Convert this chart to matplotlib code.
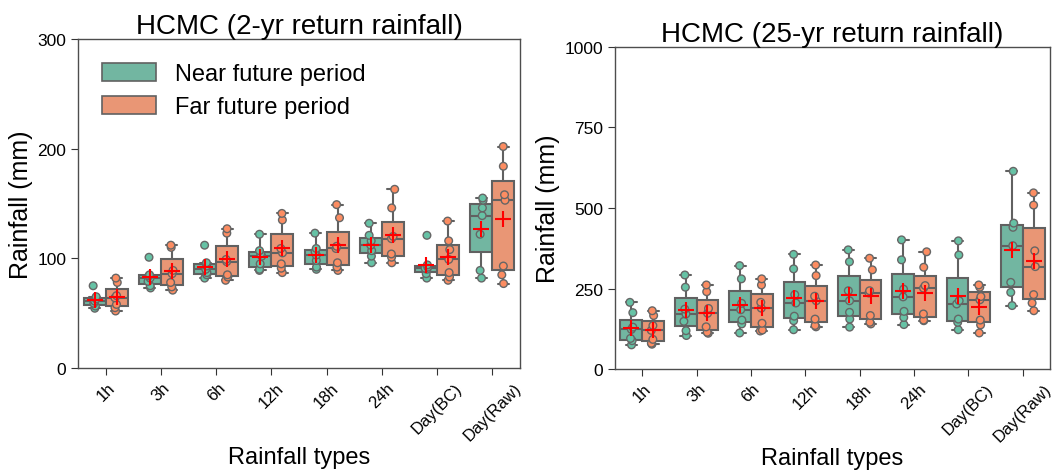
import numpy as np
import pandas as pd
import seaborn as sns
import matplotlib
matplotlib.use('Agg')
import matplotlib.pyplot as plt
from matplotlib.patches import Patch

sns.set_style('ticks')
plt.rcParams['font.family'] = ['Liberation Sans', 'DejaVu Sans']
plt.rcParams['text.color'] = 'black'
plt.rcParams['axes.labelcolor'] = 'black'
plt.rcParams['xtick.color'] = '0.2'
plt.rcParams['ytick.color'] = '0.2'
plt.rcParams['xtick.labelcolor'] = 'black'
plt.rcParams['ytick.labelcolor'] = 'black'

types = ['1h', '3h', '6h', '12h', '18h', '24h', 'Day(BC)', 'Day(Raw)']
periods = ['Near future period', 'Far future period']

# 2-yr return rainfall (mm), 7 values per box
near_2yr = [[54.5, 56.5, 59, 61, 63, 65, 75],
            [73, 75, 79, 82, 84, 85, 101],
            [82, 85, 87, 90, 93, 96, 112],
            [89, 90, 95, 102, 104, 107, 122],
            [90, 92, 98, 103, 106, 109, 123],
            [96, 102, 107, 112, 116, 121, 132],
            [82, 86, 90, 91, 92, 94, 121],
            [82, 89, 122, 139, 146, 153, 155]]
far_2yr = [[52, 55, 58, 64, 66, 78, 82],
           [71, 74, 78, 86, 89, 110, 112],
           [80, 83, 85, 97, 99, 123, 127],
           [87, 91, 95, 105, 109, 135, 141],
           [89, 92, 96, 109, 111, 137, 149],
           [96, 101, 104, 118, 120, 146, 163],
           [80, 83, 87, 99, 108, 116, 134],
           [77, 85, 93, 153, 158, 184, 202]]

# 25-yr return rainfall (mm)
near_25yr = [[75, 88, 95, 123, 130, 175, 207],
             [104, 119, 148, 171, 186, 254, 292],
             [112, 140, 152, 184, 204, 280, 321],
             [122, 150, 164, 205, 231, 311, 356],
             [130, 155, 176, 212, 243, 333, 370],
             [138, 160, 179, 224, 248, 339, 401],
             [122, 145, 155, 202, 212, 354, 398],
             [197, 238, 269, 383, 440, 453, 614]]
far_25yr = [[77, 80, 92, 120, 135, 166, 181],
            [111, 114, 131, 173, 188, 240, 261],
            [118, 121, 142, 189, 207, 261, 280],
            [131, 135, 155, 212, 226, 290, 323],
            [140, 145, 166, 236, 243, 308, 344],
            [150, 152, 171, 251, 259, 316, 364],
            [112, 137, 152, 215, 225, 254, 261],
            [181, 205, 231, 318, 367, 509, 547]]


def long_form(near, far):
    rows = []
    for t, vn, vf in zip(types, near, far):
        rows += [(t, periods[0], v) for v in vn]
        rows += [(t, periods[1], v) for v in vf]
    return pd.DataFrame(rows, columns=['type', 'period', 'rain'])


pal = sns.color_palette('Set2', 2)
box_cols = [sns.desaturate(c, 0.75) for c in pal]


def draw(ax, df, title, ylim, yticks):
    sns.boxplot(data=df, x='type', y='rain', hue='period', order=types, hue_order=periods,
                palette=pal, width=0.8, linewidth=1.5, linecolor='0.38', showfliers=False,
                showmeans=True,
                meanprops=dict(marker='+', markeredgecolor='red', markerfacecolor='red',
                               markersize=11, markeredgewidth=1.5, zorder=10),
                ax=ax, legend=False)
    np.random.seed(3)
    sns.stripplot(data=df, x='type', y='rain', hue='period', order=types, hue_order=periods,
                  palette=pal, dodge=True, jitter=0.07, size=5.5, linewidth=1, edgecolor='0.4',
                  ax=ax, legend=False, zorder=5)
    ax.set_ylim(*ylim)
    ax.set_yticks(yticks)
    ax.set_xlim(-0.5, 7.5)
    ax.set_title(title, fontsize=20, pad=4)
    ax.set_xlabel('Rainfall types', fontsize=17, labelpad=2)
    ax.set_ylabel('Rainfall (mm)', fontsize=18, labelpad=3)
    ax.tick_params(axis='x', rotation=45, labelsize=12, length=5)
    ax.tick_params(axis='y', labelsize=12.5, length=5)
    for s in ax.spines.values():
        s.set_color('0.3')
        s.set_linewidth(1)


fig = plt.figure(figsize=(10.56, 4.77), dpi=100)
ax1 = fig.add_axes([0.0739, 0.2264, 0.4185, 0.6896])
ax2 = fig.add_axes([0.5824, 0.2243, 0.4119, 0.6751])

draw(ax1, long_form(near_2yr, far_2yr), 'HCMC (2-yr return rainfall)', (0, 300), [0, 100, 200, 300])
draw(ax2, long_form(near_25yr, far_25yr), 'HCMC (25-yr return rainfall)', (0, 1000), [0, 250, 500, 750, 1000])

handles = [Patch(facecolor=box_cols[i], edgecolor='0.38', linewidth=1.2, label=periods[i]) for i in range(2)]
ax1.legend(handles=handles, loc='upper left', fontsize=17, frameon=False,
           handlelength=2.3, handleheight=0.8, borderaxespad=0.6, labelspacing=0.45)

fig.savefig('out.png', dpi=100)
